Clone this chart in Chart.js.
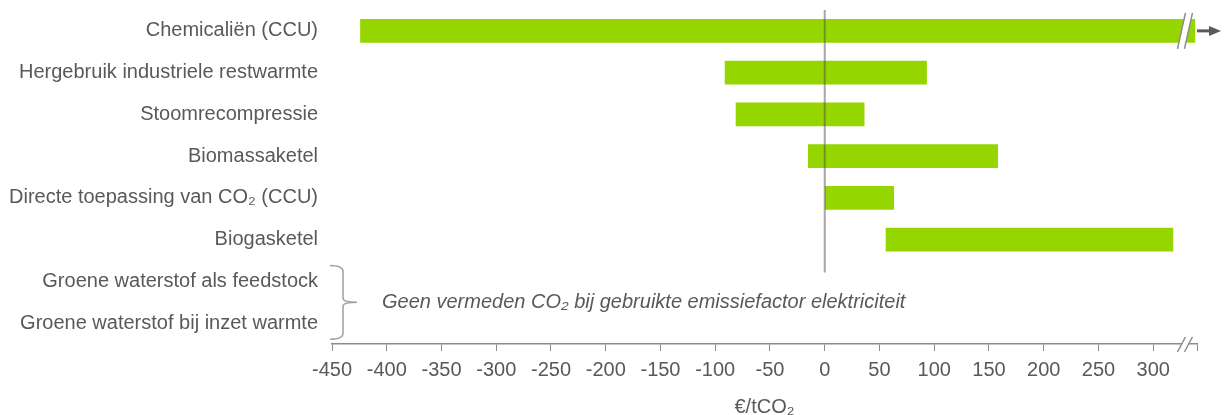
<!DOCTYPE html>
<html>
<head>
<meta charset="utf-8">
<script src="https://cdn.jsdelivr.net/npm/chart.js@4/dist/chart.umd.min.js"></script>
<style>
  html, body { margin: 0; padding: 0; background: #fff; }
  #wrap { width: 1225px; height: 415px; }
</style>
</head>
<body>
<div id="wrap"><canvas id="chart"></canvas></div>
<script>
// Chart data
const categories = [
    'Chemicaliën (CCU)',
    'Hergebruik industriele restwarmte',
    'Stoomrecompressie',
    'Biomassaketel',
    'Directe toepassing van CO₂ (CCU)',
    'Biogasketel',
    'Groene waterstof als feedstock',
    'Groene waterstof bij inzet warmte'
];
const lowValues  = [-424, -91, -81, -15,  0,  56, null, null];
const highValues = [ 338,  93,  36, 158, 63, 318, null, null];
const xTicks = [-450, -400, -350, -300, -250, -200, -150, -100, -50, 0, 50, 100, 150, 200, 250, 300];
const axisMin = -450;
const axisMax = 340;
const breakValue = 329;
const noteText = 'Geen vermeden CO₂ bij gebruikte emissiefactor elektriciteit';
const axisTitle = '€/tCO₂';

const TEXT = '#595959';
const GREEN = '#95d500';
const FONT = "'Liberation Sans', Arial, sans-serif";

// Extra drawing: zero line, axis breaks, arrow, brace + note
const extras = {
    id: 'extras',
    afterDraw(chart) {
        const ctx = chart.ctx;
        const area = chart.chartArea;
        const x = chart.scales.x;
        const y = chart.scales.y;
        ctx.save();

        // zero line (stops above the hydrogen rows)
        const x0 = x.getPixelForValue(0);
        const zeroEnd = (y.getPixelForValue(5) + y.getPixelForValue(6)) / 2 + 12;
        ctx.strokeStyle = 'rgba(80,80,80,0.5)';
        ctx.lineWidth = 2;
        ctx.beginPath();
        ctx.moveTo(x0, area.top);
        ctx.lineTo(x0, zeroEnd);
        ctx.stroke();

        // break marks
        const bx = x.getPixelForValue(breakValue);
        function breakMark(yTop, yBot) {
            const s = 4;
            ctx.fillStyle = '#fff';
            ctx.beginPath();
            ctx.moveTo(bx - 3.5 + s, yTop + 2);
            ctx.lineTo(bx + 3.5 + s, yTop + 2);
            ctx.lineTo(bx + 3.5 - s, yBot - 2);
            ctx.lineTo(bx - 3.5 - s, yBot - 2);
            ctx.closePath();
            ctx.fill();
            ctx.strokeStyle = '#8c8c8c';
            ctx.lineWidth = 1.5;
            [-3.5, 3.5].forEach(d => {
                ctx.beginPath();
                ctx.moveTo(bx + d + s, yTop);
                ctx.lineTo(bx + d - s, yBot);
                ctx.stroke();
            });
        }
        const y0 = y.getPixelForValue(0);
        breakMark(y0 - 18, y0 + 18);
        breakMark(area.bottom - 7, area.bottom + 8);

        // arrow after the first bar
        ctx.strokeStyle = TEXT;
        ctx.fillStyle = TEXT;
        ctx.lineWidth = 3;
        ctx.beginPath();
        ctx.moveTo(area.right, y0);
        ctx.lineTo(area.right + 14, y0);
        ctx.stroke();
        ctx.beginPath();
        ctx.moveTo(area.right + 12, y0 - 5);
        ctx.lineTo(area.right + 24, y0);
        ctx.lineTo(area.right + 12, y0 + 5);
        ctx.closePath();
        ctx.fill();

        // brace for the two hydrogen rows
        const y6 = y.getPixelForValue(6);
        const y7 = y.getPixelForValue(7);
        const top = y6 - 16, bot = y7 + 16, mid = (y6 + y7) / 2;
        const vx = area.left + 11;
        ctx.strokeStyle = '#a0a0a0';
        ctx.lineWidth = 1.5;
        ctx.beginPath();
        ctx.moveTo(area.left - 2, top);
        ctx.quadraticCurveTo(vx, top, vx, top + 6);
        ctx.lineTo(vx, mid - 4);
        ctx.quadraticCurveTo(vx, mid, vx + 14, mid);
        ctx.moveTo(vx + 14, mid);
        ctx.quadraticCurveTo(vx, mid, vx, mid + 4);
        ctx.lineTo(vx, bot - 6);
        ctx.quadraticCurveTo(vx, bot, area.left - 2, bot);
        ctx.stroke();

        ctx.fillStyle = TEXT;
        ctx.font = "italic 20px " + FONT;
        ctx.textAlign = 'left';
        ctx.textBaseline = 'middle';
        ctx.fillText(noteText, area.left + 50, mid);

        ctx.restore();
    }
};

const ctx = document.getElementById('chart').getContext('2d');
window.myChart = new Chart(ctx, {
    type: 'bar',
    data: {
        labels: categories,
        datasets: [{
            data: lowValues.map((lo, i) => lo === null ? null : [lo, highValues[i]]),
            backgroundColor: GREEN,
            borderWidth: 0,
            barThickness: 23
        }]
    },
    options: {
        indexAxis: 'y',
        responsive: true,
        maintainAspectRatio: false,
        animation: false,
        layout: { padding: { top: 10, right: 28, bottom: 0, left: 0 } },
        plugins: {
            legend: { display: false },
            tooltip: { enabled: false }
        },
        scales: {
            x: {
                min: axisMin,
                max: axisMax,
                afterBuildTicks: s => { s.ticks = xTicks.concat([axisMax]).map(v => ({ value: v })); },
                afterFit: s => { s.height = 71; s.paddingLeft = 0; s.paddingRight = 0; },
                ticks: {
                    color: TEXT,
                    font: { family: FONT, size: 20 },
                    padding: 7,
                    autoSkip: false,
                    maxRotation: 0,
                    callback: v => xTicks.includes(v) ? String(v) : ''
                },
                grid: { drawOnChartArea: false, drawTicks: true, tickLength: 7, color: '#8c8c8c' },
                border: { display: true, color: '#8c8c8c', width: 1.5 },
                title: {
                    display: true,
                    text: axisTitle,
                    color: TEXT,
                    font: { family: FONT, size: 20 },
                    padding: { top: 0, bottom: -4 }
                }
            },
            y: {
                afterFit: s => { s.width = 332; s.paddingTop = 0; s.paddingBottom = 0; },
                ticks: {
                    color: TEXT,
                    font: { family: FONT, size: 20 },
                    padding: 14
                },
                grid: { display: false, drawTicks: false },
                border: { display: false }
            }
        }
    },
    plugins: [extras]
});
</script>
</body>
</html>
